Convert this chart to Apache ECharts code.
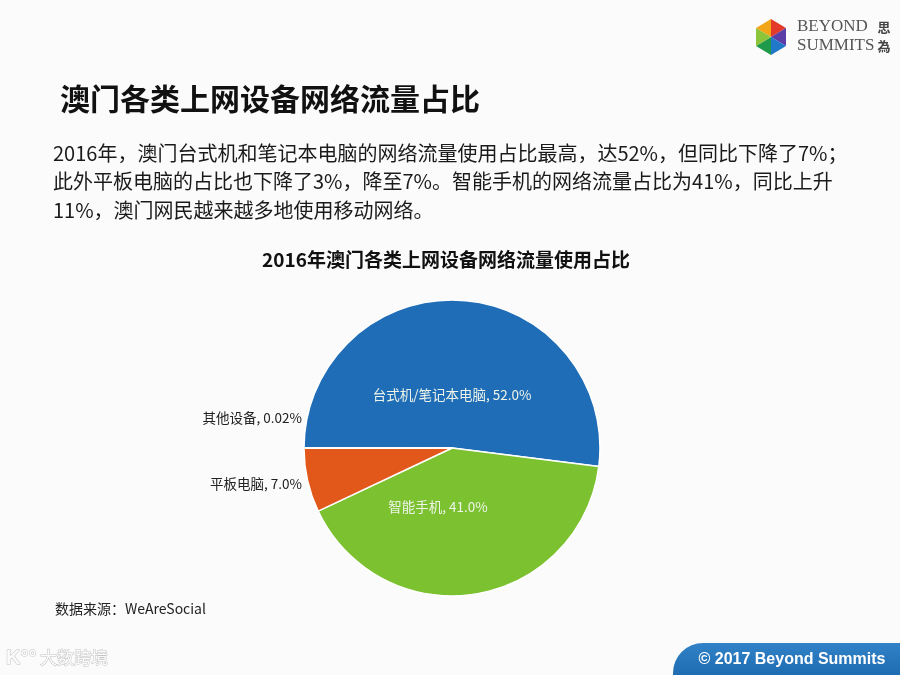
<!DOCTYPE html>
<html>
<head>
<meta charset="utf-8">
<script src="https://cdn.jsdelivr.net/npm/echarts@6/dist/echarts.min.js"></script>
<style>
html,body{margin:0;padding:0;background:#fbfbfb;}
#main{width:900px;height:675px;}
</style>
</head>
<body>
<div id="main"></div>
<script>
// ---- data ----
var categories = ['台式机/笔记本电脑', '智能手机', '平板电脑', '其他设备'];
var shares = [52.0, 41.0, 7.0, 0.02];
var sliceColors = ['#1f6db6', '#7cc130', '#e2571a', '#9e9e9e'];

var pageTitle = '澳门各类上网设备网络流量占比';
var paragraph = [
  '2016年，澳门台式机和笔记本电脑的网络流量使用占比最高，达52%，但同比下降了7%；',
  '此外平板电脑的占比也下降了3%，降至7%。智能手机的网络流量占比为41%，同比上升',
  '11%，澳门网民越来越多地使用移动网络。'
];
var chartTitle = '2016年澳门各类上网设备网络流量使用占比';
var sourceText = '数据来源：WeAreSocial';
var footerText = '© 2017 Beyond Summits';

var CJK = '"Noto Sans CJK SC", "Noto Sans", sans-serif';

// label layout (screen positions for each slice's label)
var labelSpots = [
  {x: 452, y: 395, align: 'center'},
  {x: 438, y: 507, align: 'center'},
  {x: 302, y: 484, align: 'right'},
  {x: 302, y: 418, align: 'right'}
];

var chart = echarts.init(document.getElementById('main'), null, {renderer: 'canvas'});

var option = {
  backgroundColor: '#fbfbfb',
  animation: false,
  title: [
    {text: pageTitle, left: 55, top: 79,
     textStyle: {fontFamily: CJK, fontSize: 30, fontWeight: 'bold', color: '#111'}},
    {text: paragraph.join('\n'), left: 48, top: 134,
     textStyle: {fontFamily: CJK, fontSize: 20, fontWeight: 'normal', color: '#1a1a1a', lineHeight: 28.5}},
    {text: chartTitle, left: 441, top: 245, textAlign: 'center',
     textStyle: {fontFamily: CJK, fontSize: 19, fontWeight: 'bold', color: '#111'}},
    {text: sourceText, left: 50, top: 597,
     textStyle: {fontFamily: CJK, fontSize: 14, fontWeight: 'normal', color: '#222'}}
  ],
  graphic: [
    // footer tab
    {type: 'rect', shape: {x: 673, y: 643, width: 227, height: 32, r: [30, 0, 0, 0]},
     style: {fill: new echarts.graphic.LinearGradient(0, 0, 0, 1, [
       {offset: 0, color: '#3182c8'}, {offset: 1, color: '#1e6cb2'}])}},
    {type: 'text', x: 792, y: 660,
     style: {text: footerText, fill: '#fff', font: 'bold 16px "Liberation Sans", Arial, sans-serif',
             textAlign: 'center', textVerticalAlign: 'middle'}},
    // watermark
    {type: 'text', x: 6, y: 658,
     style: {text: 'K°°', fill: '#fbfbfb', stroke: '#c4c4c4', lineWidth: 1,
             font: 'bold 20px "Liberation Sans", sans-serif', textVerticalAlign: 'middle'}},
    {type: 'text', x: 40, y: 658,
     style: {text: '大数跨境', fill: '#fbfbfb', stroke: '#c4c4c4', lineWidth: 1,
             font: '17px ' + CJK, textVerticalAlign: 'middle'}},
    // logo cube
    {type: 'group', x: 771, y: 37, children: [
      {type: 'polygon', shape: {points: [[0,0],[0,-18],[-15,-9]]}, style: {fill: '#f2a516'}},
      {type: 'polygon', shape: {points: [[0,0],[0,-18],[15,-9]]}, style: {fill: '#e33a2c'}},
      {type: 'polygon', shape: {points: [[0,0],[15,-9],[15,9]]}, style: {fill: '#5b3ea8'}},
      {type: 'polygon', shape: {points: [[0,0],[15,9],[0,18]]}, style: {fill: '#1f78c8'}},
      {type: 'polygon', shape: {points: [[0,0],[0,18],[-15,9]]}, style: {fill: '#1e9a4a'}},
      {type: 'polygon', shape: {points: [[0,0],[-15,9],[-15,-9]]}, style: {fill: '#8cc43a'}}
    ]},
    {type: 'text', x: 797, y: 27,
     style: {text: 'BEYOND', fill: '#555', font: '17px "Liberation Serif", "DejaVu Serif", serif', textVerticalAlign: 'middle'}},
    {type: 'text', x: 797, y: 46,
     style: {text: 'SUMMITS', fill: '#555', font: '17px "Liberation Serif", "DejaVu Serif", serif', textVerticalAlign: 'middle'}},
    {type: 'text', x: 884, y: 27,
     style: {text: '思', fill: '#444', font: 'bold 13px "Noto Sans CJK TC", sans-serif', textAlign: 'center', textVerticalAlign: 'middle'}},
    {type: 'text', x: 884, y: 46,
     style: {text: '為', fill: '#444', font: 'bold 13px "Noto Sans CJK TC", sans-serif', textAlign: 'center', textVerticalAlign: 'middle'}}
  ],
  series: [{
    type: 'pie',
    center: [452, 448],
    radius: 148,
    startAngle: 180,
    clockwise: true,
    avoidLabelOverlap: false,
    color: sliceColors,
    itemStyle: {borderColor: '#ffffff', borderWidth: 1.5},
    label: {
      show: true,
      position: 'outside',
      fontFamily: CJK,
      fontSize: 13.5,
      formatter: function (p) {
        var v = p.value < 0.1 ? p.value.toFixed(2) : p.value.toFixed(1);
        return p.name + ', ' + v + '%';
      }
    },
    labelLine: {show: false},
    labelLayout: function (p) {
      var s = labelSpots[p.dataIndex];
      return {x: s.x, y: s.y, align: s.align, verticalAlign: 'middle'};
    },
    data: categories.map(function (c, i) {
      var inside = i < 2;
      return {
        name: c, value: shares[i],
        label: {color: inside ? '#eef4ea' : '#222'}
      };
    })
  }]
};
chart.setOption(option);
</script>
</body>
</html>
